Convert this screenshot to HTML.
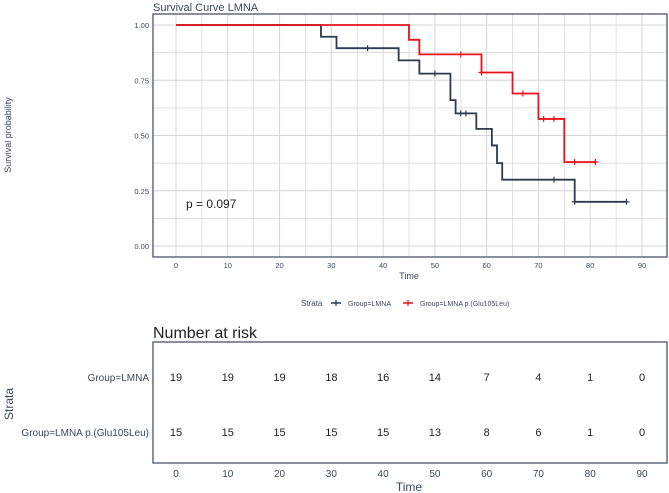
<!DOCTYPE html>
<html><head><meta charset="utf-8"><style>
html,body{margin:0;padding:0;background:#fff}
svg{display:block;font-family:"Liberation Sans",sans-serif}
</style></head><body>
<svg id="c" width="669" height="493" viewBox="0 0 669 493">
<text x="153" y="11" font-size="11" fill="#3b4a5c">Survival Curve LMNA</text>
<g id="grid"></g>
<rect x="153" y="14" width="514" height="243" fill="none" stroke="#4a5566" stroke-width="1.3"/>
<g id="series"></g>
<g id="axes"></g>
<text x="186" y="208" font-size="12" fill="#222">p = 0.097</text>
<text transform="translate(11,135) rotate(-90)" text-anchor="middle" font-size="9" fill="#3b4a5c">Survival probability</text>
<text x="409" y="279" text-anchor="middle" font-size="9" fill="#3b4a5c">Time</text>
<g>
<text x="301" y="306" font-size="8" fill="#3b4a5c">Strata</text>
<g><line x1="331" y1="303" x2="341" y2="303" stroke="#2b3a4d" stroke-width="1.5"/><line x1="336" y1="300" x2="336" y2="306" stroke="#2b3a4d" stroke-width="1.2"/><text x="348" y="306" font-size="7" fill="#3b4a5c">Group=LMNA</text></g>
<g><line x1="403" y1="303" x2="413" y2="303" stroke="#e8121a" stroke-width="1.5"/><line x1="408" y1="300" x2="408" y2="306" stroke="#e8121a" stroke-width="1.2"/><text x="420" y="306" font-size="7" fill="#3b4a5c">Group=LMNA p.(Glu105Leu)</text></g>
</g>
<text x="153" y="338" font-size="16" fill="#222">Number at risk</text>
<rect x="153" y="342" width="514" height="121" fill="none" stroke="#4a5566" stroke-width="1.3"/>
<text x="149" y="381" text-anchor="end" font-size="10" fill="#3b4a5c">Group=LMNA</text>
<text x="149" y="436" text-anchor="end" font-size="10" fill="#3b4a5c">Group=LMNA p.(Glu105Leu)</text>
<text transform="translate(13,404) rotate(-90)" text-anchor="middle" font-size="12" fill="#3b4a5c">Strata</text>
<text x="409" y="491" text-anchor="middle" font-size="12" fill="#3b4a5c">Time</text>
<g id="risk"></g>
</svg>
<script>
const xTicks=[0,10,20,30,40,50,60,70,80,90];
const yTicks=[0,0.25,0.5,0.75,1];
const yTickLabels=["0.00","0.25","0.50","0.75","1.00"];
const lmnaTimes=[0,28,31,43,47,53,54,58,61,62,63,77,87];
const lmnaSurv=[1,0.947,0.895,0.84,0.78,0.66,0.60,0.53,0.455,0.375,0.30,0.20,0.20];
const lmnaCensor=[37,50,55,56,73,77,87];
const gluTimes=[0,45,47,59,65,70,75,81];
const gluSurv=[1,0.933,0.867,0.785,0.69,0.575,0.38,0.38];
const gluCensor=[55,59,67,71,73,77,81];
const riskLmna=[19,19,19,18,16,14,7,4,1,0];
const riskGlu=[15,15,15,15,15,13,8,6,1,0];
const NS="http://www.w3.org/2000/svg";
const X=t=>176+t*(642-176)/90;
const Y=s=>246-s*221;
function mk(tag,attrs,parent){const e=document.createElementNS(NS,tag);for(const k in attrs)e.setAttribute(k,attrs[k]);parent.appendChild(e);return e;}
const grid=document.getElementById('grid'),axes=document.getElementById('axes'),series=document.getElementById('series'),risk=document.getElementById('risk');
for(let i=0;i<=8;i++){const v=i*0.125;const l=mk('line',{x1:153,x2:667,y1:Y(v),y2:Y(v),stroke:'#d6d6d6','stroke-width':i%2?0.7:1},grid);

}
for(let i=0;i<=18;i++){const v=i*5;const l=mk('line',{x1:X(v),x2:X(v),y1:14,y2:257,stroke:'#d6d6d6','stroke-width':i%2?0.7:1},grid);

}
yTicks.forEach((v,i)=>{const t=mk('text',{x:149,y:Y(v)+3,'text-anchor':'end','font-size':7.5,fill:'#3b4a5c'},axes);t.textContent=yTickLabels[i];

});
xTicks.forEach(v=>{const t=mk('text',{x:X(v),y:268,'text-anchor':'middle','font-size':7.5,fill:'#3b4a5c'},axes);t.textContent=v;


const t2=mk('text',{x:X(v),y:477,'text-anchor':'middle','font-size':10,fill:'#3b4a5c'},risk);t2.textContent=v;

});
function stepAt(times,surv,t){let s=surv[0];for(let i=0;i<times.length;i++)if(times[i]<=t)s=surv[i];return s;}
function drawCurve(times,surv,cens,color,name){let d='M'+X(times[0])+','+Y(surv[0]);
for(let i=1;i<times.length;i++){d+=' H'+X(times[i])+' V'+Y(surv[i]);}
const p=mk('path',{d:d,fill:'none',stroke:color,'stroke-width':1.8},series);


cens.forEach(t=>{const s=stepAt(times,surv,t);const g=mk('path',{d:`M${X(t)-3},${Y(s)} h6 M${X(t)},${Y(s)-3} v6`,stroke:color,'stroke-width':1.2},series);

});}
drawCurve(lmnaTimes,lmnaSurv,lmnaCensor,'#2b3a4d','lmna');
drawCurve(gluTimes,gluSurv,gluCensor,'#e8121a','glu105leu');
xTicks.forEach((v,i)=>{const a=mk('text',{x:X(v),y:381,'text-anchor':'middle','font-size':11,fill:'#222'},risk);a.textContent=riskLmna[i];


const b=mk('text',{x:X(v),y:436,'text-anchor':'middle','font-size':11,fill:'#222'},risk);b.textContent=riskGlu[i];

});
</script>
</body></html>
